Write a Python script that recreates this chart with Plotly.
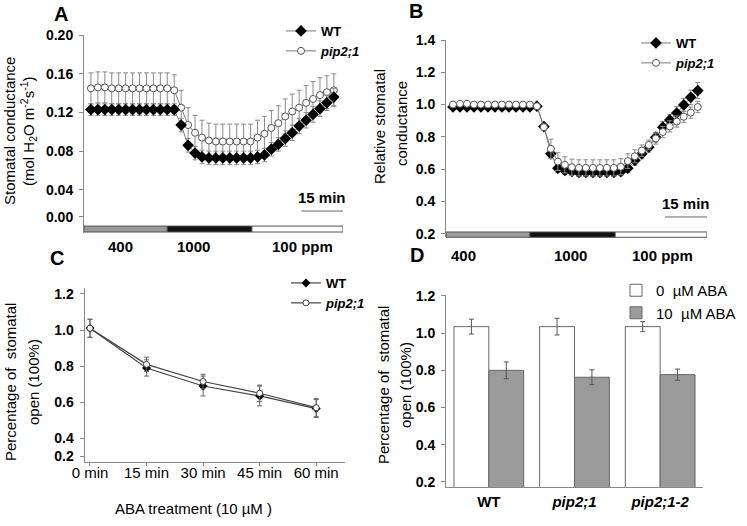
import numpy as np
import plotly.graph_objects as go

W, H = 747, 526
FONT = "Liberation Sans, Arial, sans-serif"

# ---- panel A / B : time course, one reading every 2.5 min ----
minutes = np.arange(36) * 2.5
co2_labels = ["400", "1000", "100 ppm"]
co2_edges = [-2.5, 27.5, 58.0, 90.8]
co2_colors = ["#9a9a9a", "#111111", "#ffffff"]

gs_wt = [0.123, 0.123, 0.123, 0.123, 0.123, 0.123, 0.123, 0.123, 0.123, 0.123, 0.123, 0.123,
         0.123, 0.107, 0.086, 0.078, 0.074, 0.073, 0.073, 0.073, 0.073, 0.073, 0.073, 0.073,
         0.074, 0.076, 0.082, 0.087, 0.093, 0.099, 0.106, 0.112, 0.118, 0.124, 0.130, 0.136]
gs_wt_err = [0.006, 0.006, 0.006, 0.006, 0.006, 0.006, 0.006, 0.006, 0.006, 0.006, 0.006, 0.006,
             0.006, 0.007, 0.007, 0.007, 0.007, 0.007, 0.007, 0.007, 0.007, 0.007, 0.007, 0.007,
             0.007, 0.007, 0.007, 0.007, 0.008, 0.008, 0.008, 0.008, 0.008, 0.008, 0.008, 0.009]
gs_pip = [0.145, 0.146, 0.146, 0.145, 0.145, 0.145, 0.145, 0.145, 0.145, 0.145, 0.145, 0.145,
          0.143, 0.125, 0.107, 0.099, 0.094, 0.091, 0.090, 0.090, 0.090, 0.090, 0.090, 0.090,
          0.094, 0.098, 0.104, 0.109, 0.116, 0.121, 0.125, 0.130, 0.134, 0.138, 0.141, 0.143]
gs_pip_err = [0.016, 0.016, 0.016, 0.016, 0.016, 0.016, 0.016, 0.016, 0.016, 0.016, 0.016, 0.016,
              0.016, 0.018, 0.018, 0.018, 0.018, 0.018, 0.018, 0.018, 0.018, 0.018, 0.018, 0.018,
              0.018, 0.018, 0.018, 0.018, 0.018, 0.018, 0.018, 0.018, 0.018, 0.018, 0.017, 0.017]

rel_wt = [0.985, 0.985, 0.985, 0.985, 0.985, 0.985, 0.985, 0.985, 0.985, 0.985, 0.985, 0.985,
          0.99, 0.864, 0.695, 0.606, 0.592, 0.586, 0.58, 0.58, 0.58, 0.58, 0.58, 0.58,
          0.585, 0.606, 0.654, 0.695, 0.736, 0.798, 0.86, 0.905, 0.948, 0.998, 1.045, 1.087]
rel_wt_err = [0.015, 0.015, 0.015, 0.015, 0.015, 0.015, 0.015, 0.015, 0.015, 0.015, 0.015, 0.015,
              0.015, 0.02, 0.03, 0.025, 0.025, 0.025, 0.025, 0.025, 0.025, 0.025, 0.025, 0.025,
              0.025, 0.025, 0.03, 0.03, 0.03, 0.03, 0.035, 0.035, 0.04, 0.04, 0.045, 0.05]
rel_pip = [1.0, 1.005, 1.005, 1.0, 1.0, 1.0, 1.0, 1.0, 1.0, 1.0, 1.0, 1.0,
           0.99, 0.86, 0.726, 0.647, 0.627, 0.612, 0.608, 0.608, 0.608, 0.608, 0.608, 0.608,
           0.615, 0.65, 0.68, 0.715, 0.75, 0.79, 0.83, 0.865, 0.895, 0.925, 0.95, 0.985]
rel_pip_err = [0.01, 0.01, 0.01, 0.01, 0.01, 0.01, 0.01, 0.01, 0.01, 0.01, 0.01, 0.01,
               0.01, 0.02, 0.06, 0.055, 0.05, 0.05, 0.05, 0.05, 0.05, 0.05, 0.05, 0.05,
               0.05, 0.045, 0.04, 0.035, 0.03, 0.035, 0.035, 0.035, 0.035, 0.035, 0.035, 0.035]

# ---- panel C : ABA time course ----
aba_time = ["0 min", "15 min", "30 min", "45 min", "60 min"]
open_wt = [1.01, 0.79, 0.69, 0.635, 0.565]
open_wt_err = [0.05, 0.045, 0.055, 0.055, 0.05]
open_pip = [1.01, 0.81, 0.715, 0.65, 0.57]
open_pip_err = [0.05, 0.04, 0.04, 0.045, 0.05]

# ---- panel D : bars ----
genotypes = ["WT", "pip2;1", "pip2;1-2"]
geno_text = ["<b>WT</b>", "<b><i>pip2;1</i></b>", "<b><i>pip2;1-2</i></b>"]
aba0 = [1.035, 1.035, 1.035]
aba0_err = [0.04, 0.045, 0.027]
aba10 = [0.80, 0.763, 0.777]
aba10_err = [0.045, 0.04, 0.03]


def px(x):
    return x / W


def py(y):
    return 1 - y / H


fig = go.Figure()

line_gray = "#7a7a7a"
err_gray = "#8a8a8a"

# A
fig.add_trace(go.Scatter(x=minutes, y=gs_pip, name="<b><i>pip2;1</i></b>", legendrank=2,
                         mode="lines+markers", line=dict(color=line_gray, width=1),
                         marker=dict(symbol="circle", size=7, color="white", line=dict(color="#555", width=1)),
                         error_y=dict(array=gs_pip_err, color=err_gray, thickness=1, width=2.5),
                         xaxis="x", yaxis="y", legend="legend"))
fig.add_trace(go.Scatter(x=minutes, y=gs_wt, name="<b>WT</b>", legendrank=1,
                         mode="lines+markers", line=dict(color=line_gray, width=1),
                         marker=dict(symbol="diamond", size=9, color="black"),
                         error_y=dict(array=gs_wt_err, color=err_gray, thickness=1, width=2.5),
                         xaxis="x", yaxis="y", legend="legend"))
# B
fig.add_trace(go.Scatter(x=minutes, y=rel_wt, name="<b>WT</b>", legendrank=1,
                         mode="lines+markers", line=dict(color=line_gray, width=1),
                         marker=dict(symbol="diamond", size=9, color="black"),
                         error_y=dict(array=rel_wt_err, color=err_gray, thickness=1, width=2.5),
                         xaxis="x2", yaxis="y2", legend="legend2"))
fig.add_trace(go.Scatter(x=minutes, y=rel_pip, name="<b><i>pip2;1</i></b>", legendrank=2,
                         mode="lines+markers", line=dict(color=line_gray, width=1),
                         marker=dict(symbol="circle", size=7, color="white", line=dict(color="#555", width=1)),
                         error_y=dict(array=rel_pip_err, color=err_gray, thickness=1, width=2.5),
                         xaxis="x2", yaxis="y2", legend="legend2"))
# C
fig.add_trace(go.Scatter(x=aba_time, y=open_wt, name="<b>WT</b>", legendrank=1,
                         mode="lines+markers", line=dict(color="#444", width=1.2),
                         marker=dict(symbol="diamond", size=7, color="black"),
                         error_y=dict(array=open_wt_err, color="#666", thickness=1, width=2.5),
                         xaxis="x3", yaxis="y3", legend="legend3"))
fig.add_trace(go.Scatter(x=aba_time, y=open_pip, name="<b><i>pip2;1</i></b>", legendrank=2,
                         mode="lines+markers", line=dict(color="#444", width=1.2),
                         marker=dict(symbol="circle", size=6, color="white", line=dict(color="#444", width=1)),
                         error_y=dict(array=open_pip_err, color="#666", thickness=1, width=2.5),
                         xaxis="x3", yaxis="y3", legend="legend3"))
# D
fig.add_trace(go.Bar(x=genotypes, y=aba0, name="0\u00a0 \u00b5M ABA",
                     marker=dict(color="white", line=dict(color="#666", width=1)),
                     error_y=dict(array=aba0_err, color="#555", thickness=1, width=2.5),
                     xaxis="x4", yaxis="y4", legend="legend4"))
fig.add_trace(go.Bar(x=genotypes, y=aba10, name="10\u00a0 \u00b5M ABA",
                     marker=dict(color="#9b9b9b", line=dict(color="#666", width=1)),
                     error_y=dict(array=aba10_err, color="#555", thickness=1, width=2.5),
                     xaxis="x4", yaxis="y4", legend="legend4"))

axis_style = dict(showline=True, linecolor="#888", linewidth=1, ticks="outside", ticklen=4,
                  tickcolor="#888", showgrid=False, zeroline=False, ticklabelstandoff=3,
                  tickfont=dict(family=FONT, size=14, color="black"))

shapes = []
annotations = []


def note(text, x, y, size=15, angle=0, xref="paper", yref="paper"):
    annotations.append(dict(text=text, xref=xref, yref=yref, x=x, y=y, textangle=angle,
                            xanchor="center", yanchor="middle", showarrow=False,
                            font=dict(family=FONT, size=size, color="black")))


# CO2 bars under A and B
for xa, ya in [("x", "y"), ("x2", "y2")]:
    y0, y1 = (0.005, 0.035) if xa == "x" else (0.0, 0.027)
    for i in range(3):
        shapes.append(dict(type="rect", xref=xa, yref=ya + " domain",
                           x0=co2_edges[i], x1=co2_edges[i + 1], y0=y0, y1=y1,
                           fillcolor=co2_colors[i], line=dict(color="#555", width=1)))
    # 15 min scale bar
    ys = 0.111 if xa == "x" else 0.103
    shapes.append(dict(type="line", xref=xa, yref=ya + " domain",
                       x0=co2_edges[-1] - 15, x1=co2_edges[-1], y0=ys, y1=ys,
                       line=dict(color="#666", width=1)))
    note("<b>15 min</b>", co2_edges[-1] - 7.5, ys + 0.07, xref=xa, yref=ya + " domain")

# phase labels under the CO2 bars
for (xx, yy), lab in zip([(120, 247), (193, 247), (302, 247)], co2_labels):
    note("<b>%s</b>" % lab, px(xx), py(yy))
for (xx, yy), lab in zip([(463, 256), (570, 256), (662, 256)], co2_labels):
    note("<b>%s</b>" % lab, px(xx), py(yy))

# panel letters
for lab, xx, yy in [("A", 61, 14), ("B", 416, 11), ("C", 57, 258), ("D", 417, 255)]:
    note("<b>%s</b>" % lab, px(xx), py(yy), size=20)

# y titles
ytitles = [("Stomatal conductance", 10, 131),
           ("(mol H<sub>2</sub>O m<sup>-2</sup>s<sup>-1</sup>)", 29, 131),
           ("Relative stomatal", 379, 127),
           ("conductance", 401, 124),
           ("Percentage of\u00a0 stomatal", 10, 382),
           ("open (100%)", 33, 382),
           ("Percentage of\u00a0 stomatal", 383, 385),
           ("open (100%)", 405, 385)]
for txt, xx, yy in ytitles:
    note(txt, px(xx), py(yy), angle=-90)

note("ABA treatment (10 \u00b5M )", px(193), py(508))

leg = dict(bgcolor="rgba(0,0,0,0)", borderwidth=0, xanchor="left", yanchor="top",
           font=dict(family=FONT, size=13, color="black"), itemwidth=30, tracegroupgap=0)

fig.update_layout(
    width=W, height=H, margin=dict(l=0, r=0, t=0, b=0, autoexpand=False),
    paper_bgcolor="white", plot_bgcolor="white",
    font=dict(family=FONT, color="black"),
    showlegend=True,
    barmode="group", bargap=0.186, bargroupgap=0,
    xaxis=dict(domain=[px(84), px(343)], range=[co2_edges[0], co2_edges[-1]], anchor="y",
               showline=False, showticklabels=False, ticks="", showgrid=False, zeroline=False),
    yaxis=dict(domain=[py(233), py(35)], range=[-0.0047, 0.2002], anchor="x",
               tickvals=[0.012, 0.04, 0.08, 0.12, 0.16, 0.20],
               ticktext=["<b>0.00</b>", "<b>0.04</b>", "<b>0.08</b>", "<b>0.12</b>", "<b>0.16</b>", "<b>0.20</b>"],
               **axis_style),
    xaxis2=dict(domain=[px(446), px(707)], range=[co2_edges[0], co2_edges[-1]], anchor="y2",
                showline=False, showticklabels=False, ticks="", showgrid=False, zeroline=False),
    yaxis2=dict(domain=[py(237.3), py(40)], range=[0.178, 1.4], anchor="x2",
                tickvals=[0.2, 0.4, 0.6, 0.8, 1.0, 1.2, 1.4],
                ticktext=["<b>%.1f</b>" % v for v in [0.2, 0.4, 0.6, 0.8, 1.0, 1.2, 1.4]],
                **axis_style),
    xaxis3=dict(domain=[px(84.5), px(345)], range=[-0.097, 4.51], anchor="y3",
                type="category", **{**axis_style, "ticklen": 3, "ticklabelstandoff": -6,
                                    "tickfont": dict(family=FONT, size=15, color="black")}),
    yaxis3=dict(domain=[py(462), py(288)], range=[0.269, 1.233], anchor="x3",
                tickvals=[0.30, 0.4, 0.6, 0.8, 1.0, 1.2],
                ticktext=["<b>%.1f</b>" % v for v in [0.2, 0.4, 0.6, 0.8, 1.0, 1.2]],
                **axis_style),
    xaxis4=dict(domain=[px(446), px(703)], range=[-0.5, 2.5], anchor="y4",
                tickvals=genotypes, ticktext=geno_text,
                **{**axis_style, "ticks": "", "ticklabelstandoff": 1,
                   "tickfont": dict(family=FONT, size=15, color="black")}),
    yaxis4=dict(domain=[py(487), py(295)], range=[0.173, 1.205], anchor="x4",
                tickvals=[0.2, 0.4, 0.6, 0.8, 1.0, 1.2],
                ticktext=["<b>%.1f</b>" % v for v in [0.2, 0.4, 0.6, 0.8, 1.0, 1.2]],
                **axis_style),
    legend=dict(x=px(281), y=py(16), **leg),
    legend2=dict(x=px(636), y=py(28), **leg),
    legend3=dict(x=px(286), y=py(268), **leg),
    legend4=dict(x=px(616), y=py(274), **{**leg, "font": dict(family=FONT, size=15, color="black")}),
    shapes=shapes,
    annotations=annotations,
)

# the page body keeps its default 8px margin otherwise
fig.write_html("out.html", config={"displayModeBar": False},
               post_script="document.body.style.margin='0';")
